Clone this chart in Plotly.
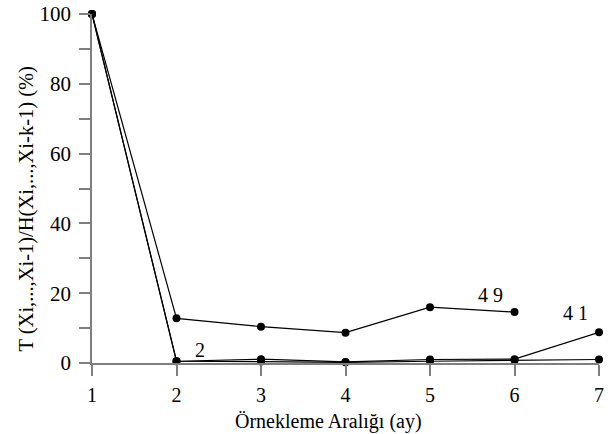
import plotly.graph_objects as go

# Sampling interval (months)
intervals = [1, 2, 3, 4, 5, 6, 7]

# Ratio T/H (%) for each series
series_49 = [100, 12.8, 10.4, 8.7, 16.0, 14.6]
series_41 = [100, 0.5, 1.1, 0.3, 1.0, 1.1, 8.8]
series_2 = [100, 0.5, 0.4, 0.2, 0.5, 0.8, 1.0]

series_labels = ["4 9", "4 1", "2"]
label_x = [5.71, 6.72, 2.28]
label_y = [19.6, 14.4, 3.6]

y_ticks = list(range(0, 101, 10))
y_ticktext = [str(v) if v % 20 == 0 else "" for v in y_ticks]

font_family = "Liberation Serif"
axis_grey = "#7f7f7f"

fig = go.Figure()
for xs, ys in [(intervals[:len(series_49)], series_49),
               (intervals, series_41),
               (intervals, series_2)]:
    fig.add_trace(go.Scatter(
        x=xs, y=ys, mode="lines+markers",
        line=dict(color="black", width=1.2),
        marker=dict(color="black", size=8),
        cliponaxis=False, showlegend=False,
    ))

for txt, lx, ly in zip(series_labels, label_x, label_y):
    fig.add_annotation(x=lx, y=ly, text=txt, showarrow=False,
                       font=dict(family=font_family, size=20, color="black"))

# Axis titles
fig.add_annotation(
    xref="paper", yref="paper", x=-0.13, y=0.44,
    xanchor="center", yanchor="middle",
    text="T (Xi,...,Xi-1)/H(Xi,...,Xi-k-1) (%)", textangle=-90,
    showarrow=False, font=dict(family=font_family, size=20.5, color="black"),
)
fig.add_annotation(
    xref="paper", yref="paper", x=0.4655, y=-0.168,
    xanchor="center", yanchor="middle",
    text="Örnekleme Aralığı (ay)",
    showarrow=False, font=dict(family=font_family, size=20, color="black"),
)

fig.update_layout(
    width=610, height=434,
    margin=dict(l=92, r=11, t=14, b=71, autoexpand=False),
    paper_bgcolor="white", plot_bgcolor="white",
    font=dict(family=font_family, size=20, color="black"),
    xaxis=dict(
        range=[1, 7], tickvals=intervals, ticks="outside", ticklen=11,
        tickcolor=axis_grey, tickwidth=1.5, showline=True, linecolor=axis_grey,
        linewidth=1.5, showgrid=False, zeroline=False, ticklabelstandoff=2,
        automargin=False,
        tickfont=dict(family=font_family, size=20),
    ),
    yaxis=dict(
        range=[0, 100], tickvals=y_ticks, ticktext=y_ticktext, ticks="outside",
        ticklen=11, tickcolor=axis_grey, tickwidth=1.5, showline=True,
        linecolor=axis_grey, linewidth=1.5, showgrid=False, zeroline=False,
        ticklabelstandoff=4, automargin=False,
        tickfont=dict(family=font_family, size=21),
    ),
)

fig.write_html("out.html")
